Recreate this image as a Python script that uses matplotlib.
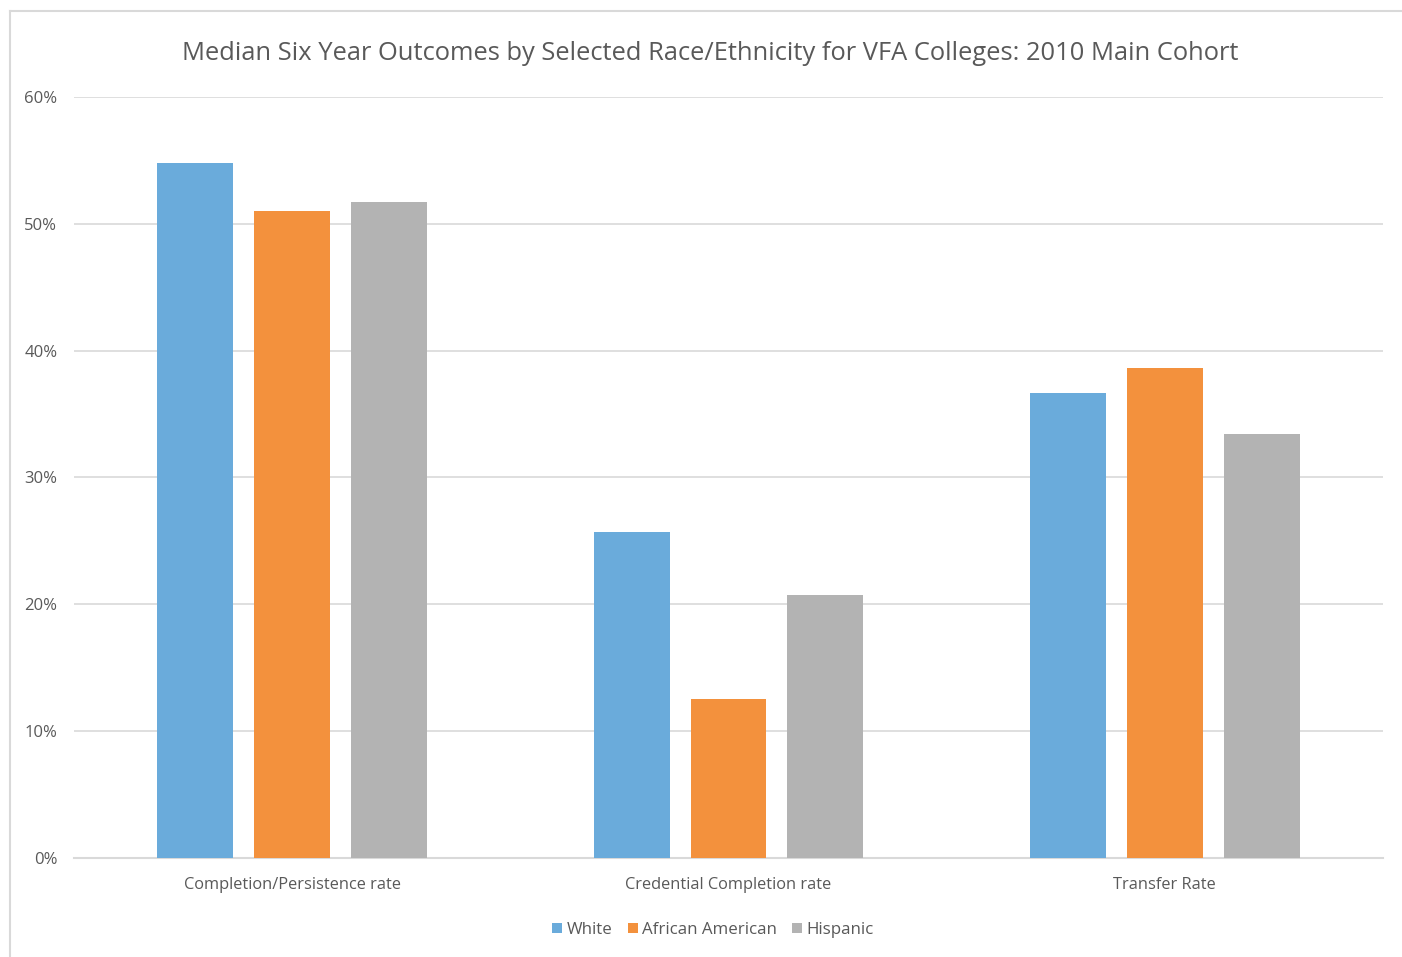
import matplotlib
matplotlib.use("Agg")
import matplotlib.pyplot as plt
from matplotlib.lines import Line2D
from matplotlib.ticker import FuncFormatter
import numpy as np

plt.rcParams['font.family'] = ['Open Sans', 'DejaVu Sans']

categories = ["Completion/Persistence rate", "Credential Completion rate", "Transfer Rate"]
series_names = ["White", "African American", "Hispanic"]
white = [0.548, 0.257, 0.367]
african_american = [0.510, 0.125, 0.386]
hispanic = [0.517, 0.207, 0.334]
colors = ["#6aabdb", "#f3913d", "#b3b3b3"]

text_color = "#595959"
grid_color = "#d9d9d9"

fig = plt.figure(figsize=(14.02, 9.57), dpi=100)
ax = fig.add_axes([74 / 1402, 1 - 858 / 957, (1383 - 74) / 1402, (858 - 97) / 957])

x = np.arange(len(categories))
width = 0.174
pitch = 0.222
for i, (vals, name, col) in enumerate(zip([white, african_american, hispanic], series_names, colors)):
    ax.bar(x + (i - 1) * pitch, vals, width=width, color=col, label=name, zorder=3)

ax.set_xlim(-0.5, 2.5)
ax.set_ylim(0, 0.6)
ax.set_yticks(np.arange(0, 0.61, 0.1))
ax.yaxis.set_major_formatter(FuncFormatter(lambda v, p: f"{v * 100:.0f}%"))
ax.set_xticks(x)
ax.set_xticklabels(categories)
ax.tick_params(axis="both", length=0, colors=text_color)
ax.tick_params(axis="x", pad=14, labelsize=11.8)
ax.tick_params(axis="y", pad=12, labelsize=12)
ax.grid(axis="y", color=grid_color, linewidth=1.2, zorder=0)
for s in ["top", "right", "left"]:
    ax.spines[s].set_visible(False)
ax.spines["bottom"].set_color(grid_color)
ax.spines["bottom"].set_linewidth(1.5)

fig.text(710 / 1402, 1 - 53 / 957, "Median Six Year Outcomes by Selected Race/Ethnicity for VFA Colleges: 2010 Main Cohort",
         ha="center", va="center", fontsize=18.4, color=text_color)

leg = fig.legend(loc="center", bbox_to_anchor=(713 / 1402, 1 - 930 / 957), ncol=3, frameon=False,
                 fontsize=12.2, handlelength=0.6, handleheight=0.6, handletextpad=0.25, columnspacing=0.9)
for t in leg.get_texts():
    t.set_color(text_color)

# chart area border (top and left edges)
fig.add_artist(Line2D([10 / 1402, 1], [1 - 11 / 957, 1 - 11 / 957], transform=fig.transFigure, color="#d9d9d9", linewidth=1.5))
fig.add_artist(Line2D([10 / 1402, 10 / 1402], [0, 1 - 11 / 957], transform=fig.transFigure, color="#d9d9d9", linewidth=1.5))

fig.savefig("out.png", dpi=100)
